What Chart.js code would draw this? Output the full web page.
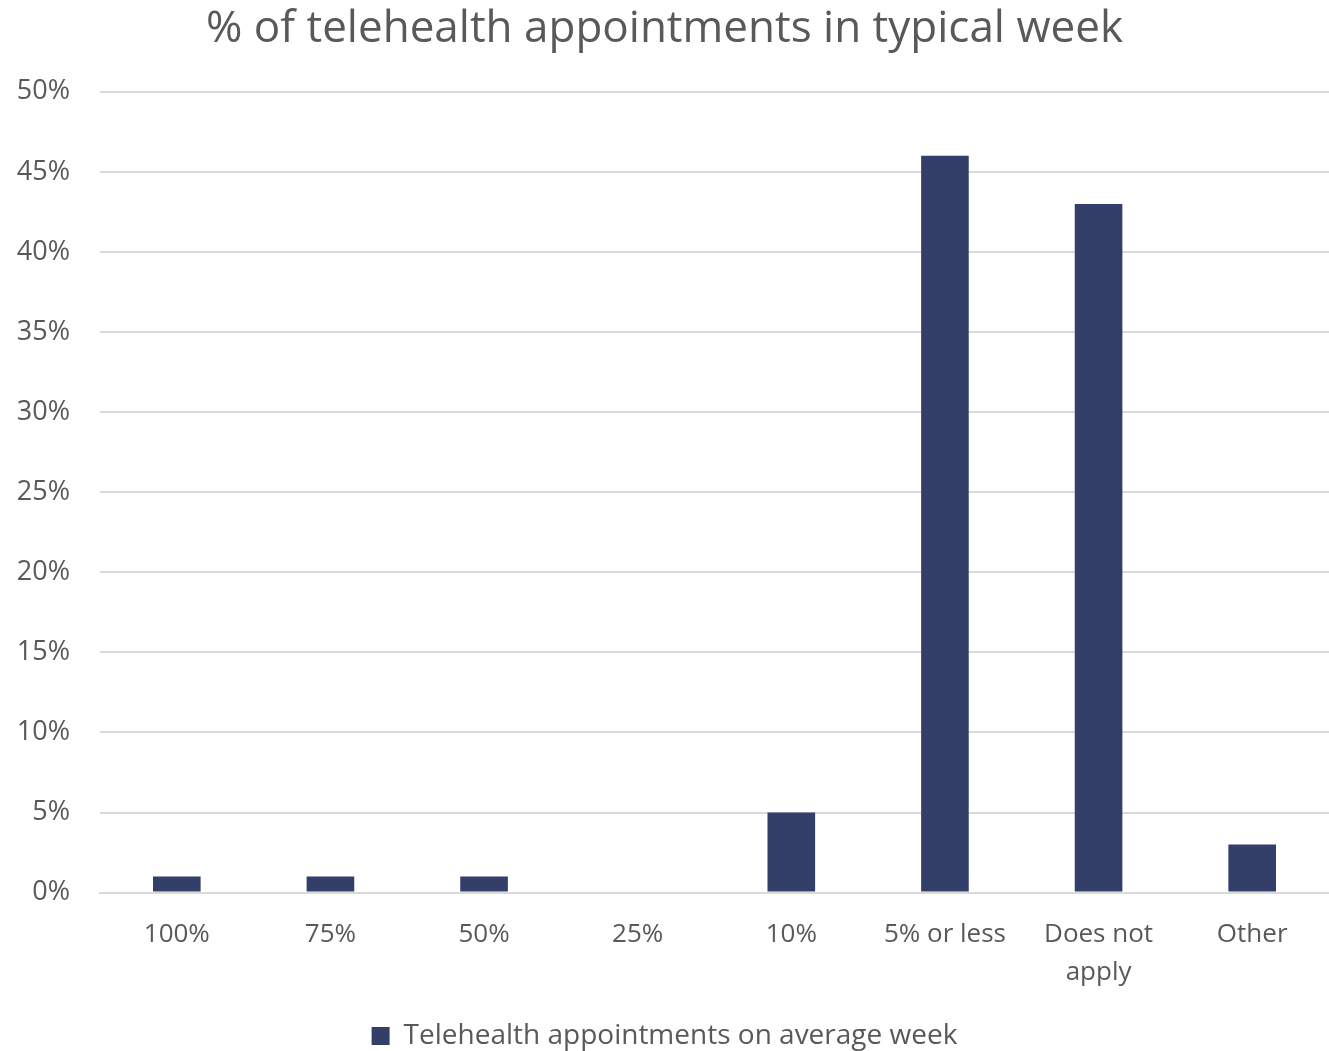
<!DOCTYPE html>
<html>
<head>
<meta charset="utf-8">
<script src="https://cdn.jsdelivr.net/npm/chart.js@4/dist/chart.umd.min.js"></script>
<style>
  html, body { margin: 0; padding: 0; background: #fff; }
  #wrap { width: 1329px; height: 1051px; position: relative; }
</style>
</head>
<body>
<div id="wrap"><canvas id="chart"></canvas></div>
<script>
const categories = ['100%', '75%', '50%', '25%', '10%', '5% or less', ['Does not', 'apply'], 'Other'];
const shares = [0.01, 0.01, 0.01, 0, 0.05, 0.46, 0.43, 0.03];
const seriesName = 'Telehealth appointments on average week';
const titleText = '% of telehealth appointments in typical week';

const textColor = '#595959';
const barColor = '#333F68';
const fontFamily = "'Open Sans', 'Noto Sans', sans-serif";

new Chart(document.getElementById('chart').getContext('2d'), {
    type: 'bar',
    data: {
        labels: categories,
        datasets: [{
            label: seriesName,
            data: shares,
            backgroundColor: barColor,
            barPercentage: 0.62,
            categoryPercentage: 0.5,
        }],
    },
    options: {
        responsive: true,
        maintainAspectRatio: false,
        animation: false,
        layout: { padding: { left: 0, right: 0, top: 0, bottom: -9 } },
        plugins: {
            title: {
                display: true,
                text: titleText,
                color: textColor,
                font: { family: fontFamily, size: 44, weight: 'normal' },
                padding: { top: 3, bottom: 36 },
            },
            legend: {
                position: 'bottom',
                labels: {
                    color: textColor,
                    font: { family: fontFamily, size: 28 },
                    boxWidth: 18,
                    boxHeight: 18,
                    padding: 6,
                },
            },
            tooltip: { enabled: false },
        },
        scales: {
            x: {
                afterFit: (scale) => { scale.height += 2; },
                grid: { display: false, drawTicks: false },
                border: { display: true, color: '#D9D9D9', width: 2 },
                ticks: {
                    color: textColor,
                    font: { family: fontFamily, size: 26, lineHeight: 1.45 },
                    padding: 23,
                    maxRotation: 0,
                    autoSkip: false,
                },
            },
            y: {
                min: 0,
                max: 0.5,
                afterFit: (scale) => { scale.width = 100; },
                grid: { color: '#D9D9D9', lineWidth: 2, drawTicks: false },
                border: { display: false },
                ticks: {
                    stepSize: 0.05,
                    color: textColor,
                    font: { family: fontFamily, size: 27 },
                    padding: 30,
                    callback: (v) => Math.round(v * 100) + '%',
                },
            },
        },
    },
});
</script>
</body>
</html>
